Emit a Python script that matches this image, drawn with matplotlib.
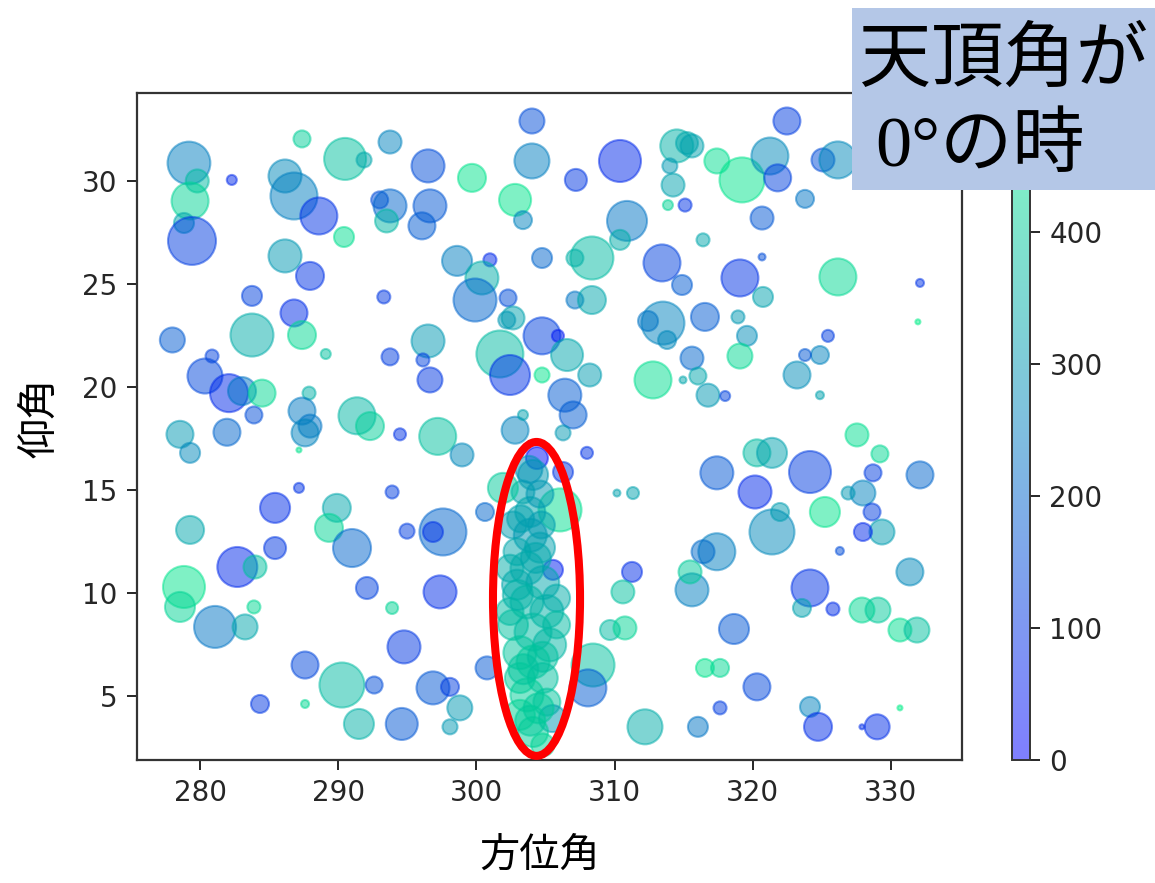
import matplotlib
matplotlib.use('Agg')
import matplotlib.pyplot as plt
from matplotlib.patches import Ellipse, Rectangle

plt.rcParams['font.family'] = ['DejaVu Sans']
JP = ['Noto Sans CJK JP', 'DejaVu Sans']

# ---- data: azimuth (x), elevation (y), bubble size, zenith colour value ----
azimuth = [
    279.2, 279.8, 279.28, 278.84, 279.42, 282.3, 287.38, 290.5, 291.87, 293.75,
    286.15, 286.8, 288.6, 290.42, 286.15, 287.96, 283.76, 286.8, 287.38, 283.76,
    289.1, 293.3, 293.75, 278.0, 280.87, 280.36, 282.1, 283.04, 284.49, 283.9,
    287.89, 287.38, 287.96, 291.36, 292.3, 278.55, 281.95, 294.47, 293.0, 293.75,
    293.5,
    304.02, 304.02, 296.5, 299.68, 310.39, 307.2, 302.8, 303.37, 296.64, 296.06,
    310.9, 310.39, 308.36, 307.13, 304.75, 298.6, 300.98, 300.4, 299.9, 302.29,
    302.65, 302.2, 304.75, 305.9, 306.56, 308.2, 304.75, 301.7, 302.43, 296.5,
    296.13, 296.64, 306.4, 307.0, 297.2, 302.8, 303.37, 307.13, 308.36, 313.43,
    314.88, 313.5, 312.42, 313.8, 312.78, 314.95, 314.5, 315.24, 314.0, 314.23,
    315.1, 313.86,
    322.47, 315.6, 317.4, 319.22, 321.24, 321.8, 325.08, 326.16, 323.78, 320.67,
    316.4, 320.67, 319.07, 320.74, 326.16, 332.1, 331.95, 316.54, 318.93, 319.58,
    319.07, 325.44, 324.86, 323.78, 323.2, 324.86, 315.6, 316.03, 316.76, 318.0,
    279.28, 287.6, 287.16, 285.43, 279.28, 285.43, 282.7, 283.98, 278.84, 278.55,
    281.09, 283.26, 283.9, 289.9, 289.33, 291.0, 292.08, 293.9, 293.9, 294.98,
    294.76, 287.6, 290.27, 292.6, 284.34, 287.6, 291.5, 294.6, 287.16,
    298.96, 306.27, 308.0, 304.38, 306.27, 306.05, 300.62, 297.58, 296.86, 297.37,
    305.54, 311.26, 310.6, 309.67, 310.75, 310.17, 311.33, 308.44, 308.07, 312.2,
    300.77, 296.86, 298.09, 298.8, 298.09,
    327.54, 329.2, 317.4, 320.3, 321.39, 324.14, 320.16, 321.39, 321.97, 325.22,
    328.7, 327.97, 326.9, 328.63, 329.35, 327.97, 332.1, 326.3, 317.4, 316.4,
    315.6, 315.46, 324.14, 323.56, 325.8, 327.9, 329.06, 330.65, 331.88, 331.37,
    318.64, 316.54, 317.63, 320.3, 317.63, 316.03, 324.14, 324.72, 329.0, 327.9,
    330.65,
    304.1, 303.37, 301.92, 303.9, 302.65, 303.9, 304.6, 302.94, 303.66, 304.8,
    302.94, 303.66, 305.1, 302.65, 304.1, 305.3, 303.15, 304.1, 303.15, 304.8,
    303.66, 305.1, 303.15, 305.5, 304.1, 304.8, 305.8, 305.8, 302.43, 302.43,
    303.9, 304.5, 303.4, 304.8, 303.0, 304.3, 303.2, 304.7, 304.6, 303.8,
]

elevation = [
    30.87, 30.0, 29.03, 27.96, 27.09, 30.05, 32.04, 31.07, 31.02, 31.89,
    30.24, 29.27, 28.3, 27.28, 26.36, 25.39, 24.42, 23.59, 22.52, 22.52,
    21.6, 24.37, 21.46, 22.28, 21.5, 20.53, 19.7, 19.8, 19.7, 18.64,
    19.7, 18.83, 18.1, 18.6, 18.1, 17.7, 17.8, 17.7, 29.08, 28.79,
    28.06,
    32.91, 30.97, 30.73, 30.15, 30.97, 30.05, 29.08, 28.1, 28.79, 27.82,
    28.06, 27.14, 26.26, 26.26, 26.26, 26.12, 26.17, 25.29, 24.22, 24.32,
    23.35, 23.25, 22.48, 22.48, 21.55, 20.58, 20.58, 21.6, 20.58, 22.23,
    21.31, 20.34, 19.6, 18.64, 17.6, 17.9, 18.64, 24.22, 24.22, 26.02,
    24.95, 23.1, 23.2, 22.28, 20.34, 20.34, 31.7, 31.84, 30.73, 29.8,
    28.83, 28.83,
    32.91, 31.7, 30.97, 30.05, 31.21, 30.15, 31.02, 31.02, 29.13, 28.2,
    27.14, 26.31, 25.29, 24.37, 25.34, 25.05, 23.16, 23.4, 23.4, 22.48,
    21.5, 22.48, 21.55, 21.55, 20.58, 19.6, 21.4, 20.53, 19.6, 19.56,
    16.8, 17.77, 15.1, 14.13, 13.06, 12.18, 11.26, 11.26, 10.29, 9.32,
    8.35, 8.35, 9.32, 14.13, 13.16, 12.18, 10.24, 9.27, 14.9, 13.0,
    7.38, 6.5, 5.53, 5.53, 4.61, 4.61, 3.64, 3.64, 16.94,
    16.7, 17.77, 16.8, 16.55, 15.87, 14.03, 13.93, 12.96, 12.96, 10.05,
    11.12, 11.02, 10.05, 8.2, 8.3, 14.85, 14.85, 6.5, 5.39, 3.5,
    6.36, 5.39, 5.44, 4.42, 3.5,
    17.67, 16.75, 15.83, 16.8, 16.8, 15.87, 14.9, 12.96, 13.93, 13.93,
    15.83, 14.85, 14.85, 13.93, 12.96, 12.96, 15.73, 12.04, 12.0, 12.0,
    10.15, 11.02, 10.24, 9.27, 9.22, 9.17, 9.17, 8.2, 8.2, 11.02,
    8.25, 6.36, 6.36, 5.44, 4.42, 3.5, 4.47, 3.5, 3.5, 3.5,
    4.42,
    15.73, 14.9, 15.1, 13.93, 13.3, 12.8, 12.2, 12.0, 11.2, 10.5,
    10.4, 9.56, 9.1, 8.45, 8.1, 7.48, 7.1, 6.65, 5.87, 5.87,
    5.05, 4.7, 4.08, 3.9, 3.25, 2.62, 9.75, 8.45, 11.2, 9.1,
    3.8, 4.4, 6.3, 6.9, 9.9, 11.7, 13.6, 13.3, 14.8, 16.0,
]

bubble_size = [
    950, 274, 710, 207, 1194, 52, 150, 914, 117, 274,
    565, 1145, 710, 207, 565, 406, 207, 378, 406, 959,
    52, 88, 150, 324, 88, 635, 749, 406, 378, 150,
    88, 378, 274, 710, 406, 378, 378, 75, 150, 565,
    274,
    324, 635, 565, 406, 914, 251, 531, 168, 565, 378,
    829, 207, 959, 150, 207, 467, 88, 565, 959, 150,
    274, 150, 710, 75, 531, 274, 117, 1145, 829, 565,
    88, 324, 565, 378, 710, 378, 52, 150, 406, 710,
    207, 959, 207, 168, 710, 25, 565, 251, 117, 274,
    88, 52,
    378, 274, 324, 1050, 710, 378, 274, 710, 168, 274,
    88, 25, 710, 207, 710, 33, 13, 406, 88, 207,
    324, 75, 168, 75, 378, 33, 274, 150, 274, 52,
    207, 378, 52, 467, 406, 251, 829, 274, 914, 467,
    914, 324, 88, 406, 406, 749, 251, 75, 88, 117,
    565, 378, 1050, 150, 168, 33, 467, 531, 13,
    274, 117, 75, 251, 207, 959, 168, 1145, 207, 565,
    207, 207, 274, 207, 274, 25, 75, 959, 710, 635,
    274, 565, 168, 324, 117,
    274, 150, 565, 378, 467, 914, 565, 1050, 168, 467,
    150, 324, 88, 150, 324, 168, 378, 33, 710, 274,
    565, 274, 710, 168, 88, 324, 324, 274, 324, 378,
    467, 168, 168, 378, 88, 207, 207, 406, 324, 13,
    13,
    467, 274, 467, 467, 378, 565, 467, 378, 565, 565,
    467, 565, 565, 467, 710, 565, 565, 565, 467, 467,
    565, 378, 467, 378, 467, 274, 378, 378, 378, 378,
    467, 467, 467, 467, 467, 467, 378, 378, 378, 378,
]

zenith = [
    250, 370, 420, 330, 120, 80, 410, 380, 330, 260,
    270, 250, 100, 440, 300, 100, 130, 90, 430, 340,
    380, 110, 120, 180, 130, 140, 80, 230, 430, 150,
    350, 240, 230, 360, 410, 300, 200, 100, 150, 200,
    360,
    150, 250, 150, 450, 80, 110, 450, 260, 170, 180,
    230, 340, 370, 350, 200, 250, 80, 340, 200, 150,
    320, 300, 130, 50, 330, 310, 450, 370, 100, 300,
    130, 110, 180, 180, 380, 260, 320, 230, 330, 130,
    180, 260, 230, 270, 440, 330, 350, 330, 300, 320,
    100, 420,
    120, 320, 440, 450, 270, 130, 150, 270, 230, 170,
    330, 150, 100, 320, 430, 100, 470, 180, 300, 280,
    430, 120, 260, 170, 280, 320, 200, 330, 300, 130,
    270, 260, 100, 90, 330, 110, 80, 380, 450, 420,
    230, 330, 430, 330, 420, 200, 130, 420, 120, 120,
    110, 140, 370, 150, 110, 430, 350, 170, 450,
    270, 300, 100, 30, 110, 440, 200, 200, 100, 90,
    60, 90, 380, 370, 420, 320, 320, 380, 180, 340,
    170, 170, 120, 300, 300,
    440, 430, 170, 370, 320, 120, 80, 270, 310, 450,
    120, 260, 300, 120, 310, 80, 200, 150, 250, 210,
    250, 400, 100, 320, 90, 430, 400, 440, 380, 270,
    170, 450, 430, 140, 120, 230, 260, 90, 90, 90,
    470,
    300, 320, 400, 330, 310, 300, 320, 330, 340, 330,
    330, 360, 350, 380, 370, 360, 390, 400, 400, 380,
    410, 390, 420, 300, 410, 420, 340, 370, 340, 370,
    400, 400, 390, 380, 350, 330, 320, 310, 300, 290,
]

x_ticks = [280, 290, 300, 310, 320, 330]
y_ticks = [5, 10, 15, 20, 25, 30]
cbar_ticks = [0, 100, 200, 300, 400]

W, H = 1155, 883
fig = plt.figure(figsize=(W / 100, H / 100), dpi=100)
ax = fig.add_axes([137 / W, 1 - 760 / H, (962 - 137) / W, (760 - 93) / H])
cax = fig.add_axes([1012 / W, 1 - 760 / H, 18 / W, (760 - 93) / H])

sc = ax.scatter(azimuth, elevation, s=bubble_size, c=zenith, cmap='winter',
                vmin=0, vmax=505, alpha=0.5, linewidths=1.5)
ax.set_xlim(275.44, 335.14)
ax.set_ylim(1.89, 34.27)
ax.set_xticks(x_ticks)
ax.set_yticks(y_ticks)
ax.tick_params(labelsize=20, length=7, width=1.4, pad=7, colors='#262626')
for sp in ax.spines.values():
    sp.set_linewidth(1.6)
    sp.set_color('#333333')

cb = fig.colorbar(sc, cax=cax, ticks=cbar_ticks)
cb.ax.tick_params(labelsize=20, length=7, width=1.4, pad=7, colors='#262626')
cb.outline.set_linewidth(1.4)
cb.outline.set_edgecolor('#333333')

ax.add_patch(Ellipse((304.35, 9.71), 6.3, 15.24, fill=False,
                     edgecolor='#ff0000', linewidth=5.8, zorder=10, clip_on=False))

ax.set_xlabel('方位角', fontsize=29, family=JP, va='center')
ax.xaxis.set_label_coords((540 - 137) / 825, (760 - 855) / 667)
ax.set_ylabel('仰角', fontsize=29, family=JP, va='center')
ax.yaxis.set_label_coords((40 - 137) / 825, (760 - 418) / 667)

fig.patches.append(Rectangle((852 / W, 1 - 190 / H), (W - 852) / W, 182 / H,
                             transform=fig.transFigure, facecolor='#b4c7e7',
                             edgecolor='none', zorder=20))
fig.text(1003 / W, 1 - 60 / H, '天頂角が', fontsize=52, family=JP,
         ha='center', va='center', color='black', zorder=21)
fig.text(980 / W, 1 - 148 / H, '0°の時', fontsize=52,
         family=['Liberation Serif', 'Noto Sans CJK JP'],
         ha='center', va='center', color='black', zorder=21)

fig.savefig('out.png', dpi=100)
